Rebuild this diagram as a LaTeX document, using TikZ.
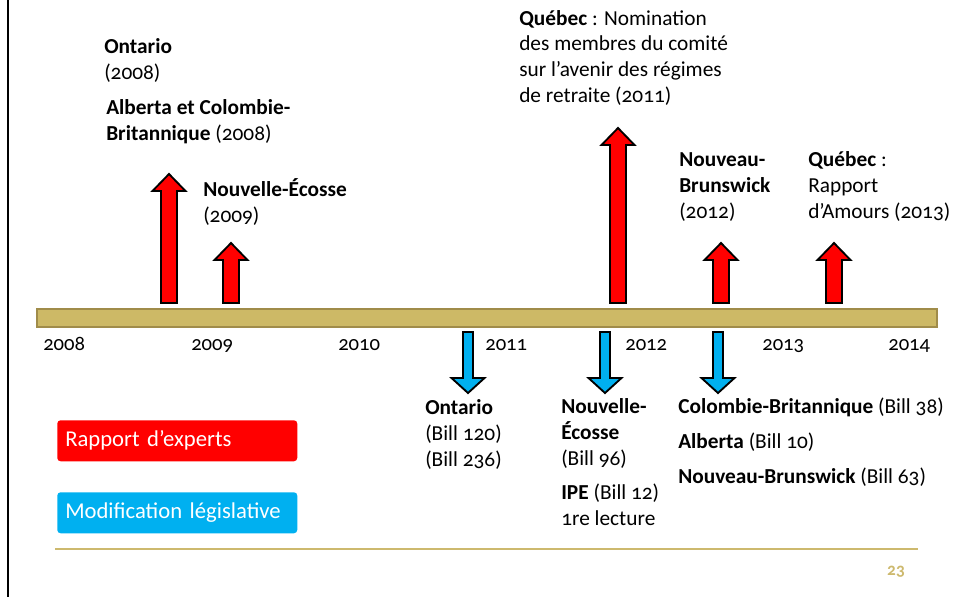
\documentclass[tikz,border=0pt]{standalone}
\usepackage{fontspec}
\setmainfont{Carlito}[Numbers=OldStyle]
\definecolor{barfill}{RGB}{205,185,102}
\definecolor{bardraw}{RGB}{160,140,74}
\definecolor{tan}{RGB}{205,185,110}
\definecolor{legred}{RGB}{255,0,0}
\definecolor{legblue}{RGB}{0,176,240}
\tikzset{
  lbl/.style={anchor=base west,align=left,inner sep=0pt,font=\fontsize{16}{19.2}\selectfont},
  yr/.style={anchor=base west,inner sep=0pt,font=\fontsize{15.5}{18}\selectfont},
  redarrow/.style={draw=black,fill=legred,line width=1.4pt,line join=miter},
  bluearrow/.style={draw=black,fill=legblue,line width=1.4pt,line join=miter},
  legbox/.style={anchor=north west,rounded corners=2.5pt,text=white,align=left,
    text width=168pt,inner xsep=6pt,minimum height=30.75pt,font=\fontsize{17}{20}\selectfont}
}

\begin{document}
\begin{tikzpicture}[x=0.75pt,y=-0.75pt]
  \useasboundingbox (0,0) rectangle (959,597);
  \draw[line width=2pt] (8,0)--(8,597);
  % time line
  \draw[fill=barfill,draw=bardraw,line width=1.5pt] (37,309) rectangle (937,327);
  \foreach \yr/\x in {2008/43,2009/191,2010/338,2011/485,2012/625,2013/762,2014/888}
    \node[yr] (y\yr) at (\x,350) {\yr};
  % expert reports
  \foreach \cx/\tip in {169/174,231/243,618/128,721/243,834/243}
    \draw[redarrow] (\cx-8,303)--(\cx-8,\tip+17)--(\cx-16.5,\tip+17)--(\cx,\tip)
      --(\cx+16.5,\tip+17)--(\cx+8,\tip+17)--(\cx+8,303)--cycle;
  % bills
  \foreach \cx in {468,605,718}
    \draw[bluearrow] (\cx-5,332)--(\cx-5,378)--(\cx-16.5,378)--(\cx,393)
      --(\cx+16.5,378)--(\cx+5,378)--(\cx+5,332)--cycle;
  % labels, anchored at the baseline of their last line
  \node[lbl] (ont) at (104,79) {\textbf{Ontario}\\(2008)};
  \node[lbl] (abcb) at (106,140) {\textbf{Alberta et Colombie-}\\\textbf{Britannique} (2008)};
  \node[lbl] (ne) at (203,222) {\textbf{Nouvelle-Écosse}\\(2009)};
  \node[lbl] (qca) at (519,102) {\textbf{Québec} : Nomination\\des membres du comité\\sur l’avenir des régimes\\de retraite (2011)};
  \node[lbl] (nb) at (679,218) {\textbf{Nouveau-}\\\textbf{Brunswick}\\(2012)};
  \node[lbl] (qcb) at (808,218) {\textbf{Québec} :\\Rapport\\d’Amours (2013)};
  \node[lbl] (bont) at (425,466) {\textbf{Ontario}\\(Bill 120)\\(Bill 236)};
  \node[lbl] (bne) at (561,465) {\textbf{Nouvelle-}\\\textbf{Écosse}\\(Bill 96)};
  \node[lbl] (ipe) at (561,525) {\textbf{IPE} (Bill 12)\\1re lecture};
  \node[lbl] (bcb) at (678,413) {\textbf{Colombie-Britannique} (Bill 38)};
  \node[lbl] (balb) at (678,448) {\textbf{Alberta} (Bill 10)};
  \node[lbl] (bnb) at (678,483) {\textbf{Nouveau-Brunswick} (Bill 63)};
  % legend
  \node[legbox,fill=legred] (rapport) at (57,420) {Rapport d’experts};
  \node[legbox,fill=legblue] (modif) at (57,492) {Modification législative};
  \draw[tan,line width=0.8pt] (55,549)--(918,549);
  \node[text=tan,font=\bfseries\fontsize{13}{15}\selectfont] (page) at (896,572) {23};
\end{tikzpicture}
\end{document}
